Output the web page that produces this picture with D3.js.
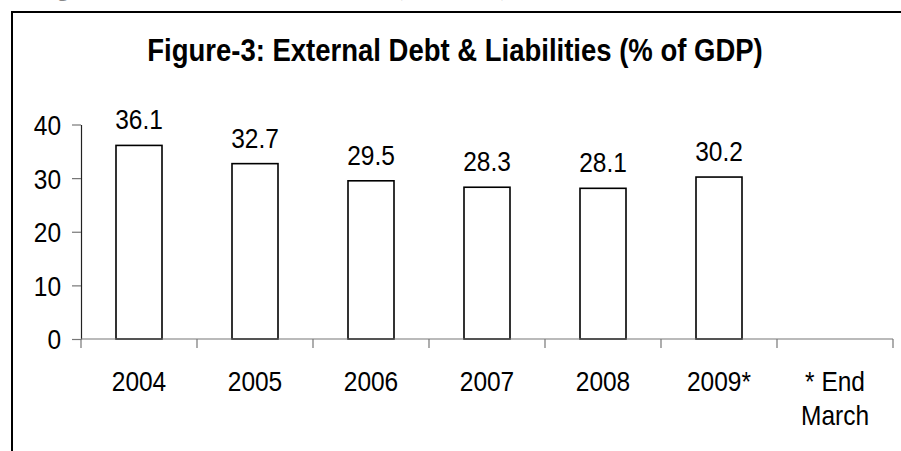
<!DOCTYPE html>
<html>
<head>
<meta charset="utf-8">
<script src="https://cdn.jsdelivr.net/npm/d3@7"></script>
<style>
  html, body { margin: 0; padding: 0; background: #fff; }
  svg { display: block; }
  text { font-family: "Liberation Sans", Arial, sans-serif; fill: #000; }
</style>
</head>
<body>
<svg id="chart" width="901" height="451"></svg>
<script>
// External debt & liabilities as % of GDP, by year
const categories = ["2004", "2005", "2006", "2007", "2008", "2009*", "* End March"];
const years = ["2004", "2005", "2006", "2007", "2008", "2009*"];
const values = [36.1, 32.7, 29.5, 28.3, 28.1, 30.2];
const yTicks = [0, 10, 20, 30, 40];
const title = "Figure-3: External Debt & Liabilities (% of GDP)";
const pageHeading = "Figure 3: External Debt & Liabilities (% of GDP)";

const TALL = 1.16;        // glyphs are drawn slightly taller than wide
const FS = 24.5;          // body text size

const svg = d3.select("#chart");

// Places a text at (x, y) with the tall glyph shape
function tallText(parent, x, y, str, opts = {}) {
  const g = parent.append("g").attr("transform", `translate(${x},${y}) scale(1,${TALL})`);
  const t = g.append("text")
    .attr("text-anchor", opts.anchor || "middle")
    .style("font-size", (opts.size || FS) + "px")
    .style("font-weight", opts.weight || "normal")
    .text(str);
  return t;
}

// Heading line from the page above, mostly cut off by the top edge
svg.append("text")
  .attr("x", 38).attr("y", -4)
  .attr("textLength", 470)
  .attr("lengthAdjust", "spacing")
  .style("font-family", "'Liberation Serif', 'Times New Roman', serif")
  .style("font-weight", "bold")
  .style("font-size", "21px")
  .style("fill", "#888")
  .text(pageHeading);

// Chart frame (extends past the right and bottom edges)
svg.append("rect")
  .attr("x", 12).attr("y", 12)
  .attr("width", 920).attr("height", 460)
  .attr("fill", "none")
  .attr("stroke", "#000")
  .attr("stroke-width", 2);

// Title
tallText(svg, 455, 61, title, { size: 27.5, weight: "bold" });

const plot = { left: 81, right: 893, top: 124.5, bottom: 339 };

const x = d3.scaleBand()
  .domain(categories)
  .range([plot.left, plot.right])
  .paddingInner(0)
  .paddingOuter(0);

const y = d3.scaleLinear()
  .domain([0, 40])
  .range([plot.bottom, plot.top]);

const barW = 46;
const barData = years.map((c, i) => ({ c, v: values[i] }));

// Bars
svg.append("g").selectAll("rect")
  .data(barData)
  .join("rect")
  .attr("x", d => x(d.c) + x.bandwidth() / 2 - barW / 2)
  .attr("y", d => y(d.v))
  .attr("width", barW)
  .attr("height", d => y(0) - y(d.v))
  .attr("fill", "#fff")
  .attr("stroke", "#000")
  .attr("stroke-width", 1.6);

// Value labels
const valG = svg.append("g");
barData.forEach(d => {
  tallText(valG, x(d.c) + x.bandwidth() / 2, y(d.v) - 16, d.v.toFixed(1));
});

// Y axis
const yAxis = svg.append("g")
  .attr("transform", `translate(${plot.left},0)`)
  .call(d3.axisLeft(y).tickValues(yTicks).tickSize(9).tickPadding(11).tickSizeOuter(0));
yAxis.select(".domain").attr("stroke", "#222").attr("stroke-width", 1.2);
yAxis.selectAll(".tick line").attr("stroke", "#777").attr("stroke-width", 1.2);
yAxis.selectAll(".tick text")
  .style("font-family", "'Liberation Sans', Arial, sans-serif")
  .style("font-size", FS + "px")
  .attr("dy", "0.35em")
  .attr("transform", `scale(1,${TALL})`)
  .attr("fill", "#000");

// X axis: ticks at category boundaries
const xAxisG = svg.append("g");
xAxisG.append("line")
  .attr("x1", plot.left).attr("x2", plot.right)
  .attr("y1", y(0)).attr("y2", y(0))
  .attr("stroke", "#777").attr("stroke-width", 1.2);
const bounds = categories.map(c => x(c)).concat([x(categories[categories.length - 1]) + x.bandwidth()]);
xAxisG.selectAll("line.b")
  .data(bounds)
  .join("line")
  .attr("class", "b")
  .attr("x1", d => d).attr("x2", d => d)
  .attr("y1", y(0)).attr("y2", y(0) + 9)
  .attr("stroke", "#777").attr("stroke-width", 1.2);

// Category labels (the last one wraps onto two lines)
categories.forEach(c => {
  const cx = x(c) + x.bandwidth() / 2;
  const lines = c === "* End March" ? ["* End", "March"] : [c];
  lines.forEach((ln, i) => tallText(xAxisG, cx, 390.5 + i * 34.5, ln));
});
</script>
</body>
</html>
